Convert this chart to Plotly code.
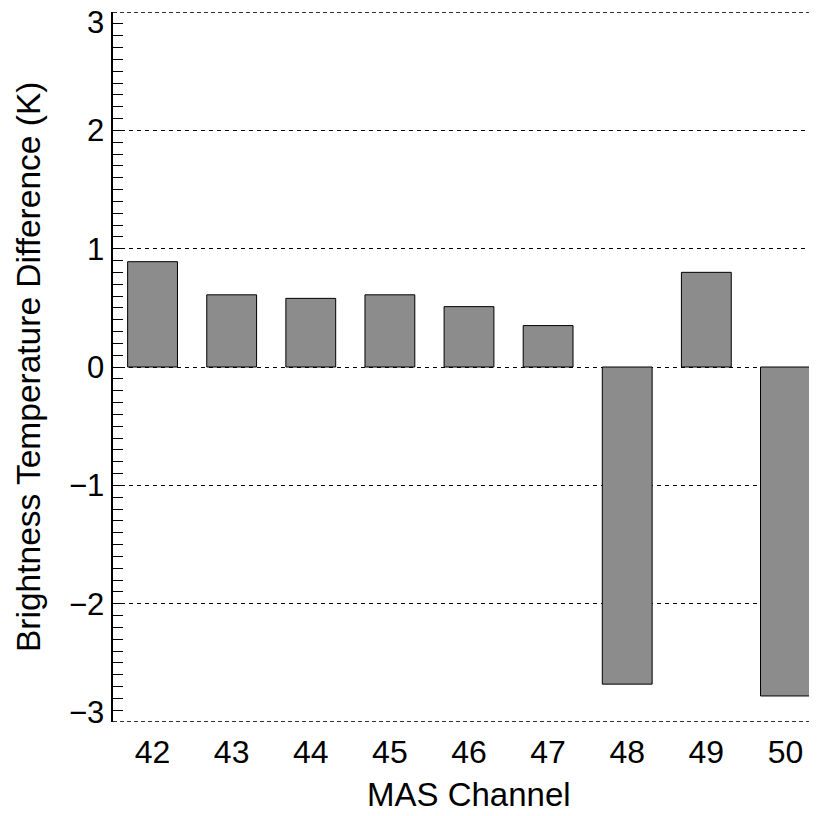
import plotly.graph_objects as go

channels = [42, 43, 44, 45, 46, 47, 48, 49, 50]
tb_diff = [0.89, 0.61, 0.58, 0.61, 0.51, 0.35, -2.68, 0.80, -2.78]
ytick_vals = [-3, -2, -1, 0, 1, 2, 3]
ytick_text = ["\u22123", "\u22122", "\u22121", "0", "1", "2", "3"]

# page body has an 8px margin; figure coordinates below are relative to the figure
L, T, W, H = 105, 4, 817, 816
B = 102
PW, PH = W - L, H - T - B

fig = go.Figure()
fig.add_trace(go.Bar(
    x=channels, y=tb_diff, width=0.63,
    marker=dict(color="#8c8c8c", line=dict(color="black", width=1)),
))

font_family = "Liberation Sans, Arial, sans-serif"

annotations = []
for v, t in zip(ytick_vals, ytick_text):
    shift = 0
    if v == max(ytick_vals):
        shift = -10
    elif v == min(ytick_vals):
        shift = 10
    annotations.append(dict(
        x=0, xref="paper", y=v, yref="y", text=t, showarrow=False,
        xanchor="right", yanchor="middle", xshift=-7, yshift=shift,
        height=26, valign="middle",
        font=dict(size=31, family=font_family, color="black"),
    ))
annotations.append(dict(
    x=(20 - L) / PW, xref="paper", y=0.5, yref="paper",
    text="Brightness Temperature Difference (K)", textangle=-90,
    showarrow=False, xanchor="center", yanchor="middle",
    font=dict(size=33.5, family=font_family, color="black"),
))
annotations.append(dict(
    x=0.5, xref="paper", y=-(786 - (T + PH)) / PH, yref="paper",
    text="MAS Channel", showarrow=False, xanchor="center", yanchor="middle",
    font=dict(size=33, family=font_family, color="black"),
))

shapes = []
for v in (max(ytick_vals), min(ytick_vals)):
    shapes.append(dict(
        type="line", xref="paper", x0=0, x1=1, yref="y", y0=v, y1=v,
        line=dict(color="#333333", width=2, dash="4px,3px"), layer="above",
    ))

fig.update_layout(
    width=W, height=H,
    margin=dict(l=L, r=0, t=T, b=B),
    plot_bgcolor="white", paper_bgcolor="white",
    showlegend=False,
    font=dict(family=font_family, color="black", size=30),
    annotations=annotations,
    shapes=shapes,
    xaxis=dict(
        range=[41.5, 50.5], automargin=False,
        tickvals=channels, ticktext=[str(c) for c in channels],
        ticks="", showgrid=False, showline=False, zeroline=False,
        tickfont=dict(size=32), ticklabelstandoff=8,
    ),
    yaxis=dict(
        range=[-3, 3], tickvals=ytick_vals, automargin=False,
        showticklabels=False,
        showgrid=True, gridcolor="black", gridwidth=1, griddash="4px,4px",
        zeroline=False,
        showline=True, linecolor="black", linewidth=1.5,
        ticks="inside", ticklen=10, tickcolor="black", tickwidth=1,
        mirror="ticks",
        minor=dict(dtick=0.1, ticks="inside", ticklen=10, tickcolor="black", tickwidth=1, showgrid=False),
    ),
)

fig.write_html("out.html")
